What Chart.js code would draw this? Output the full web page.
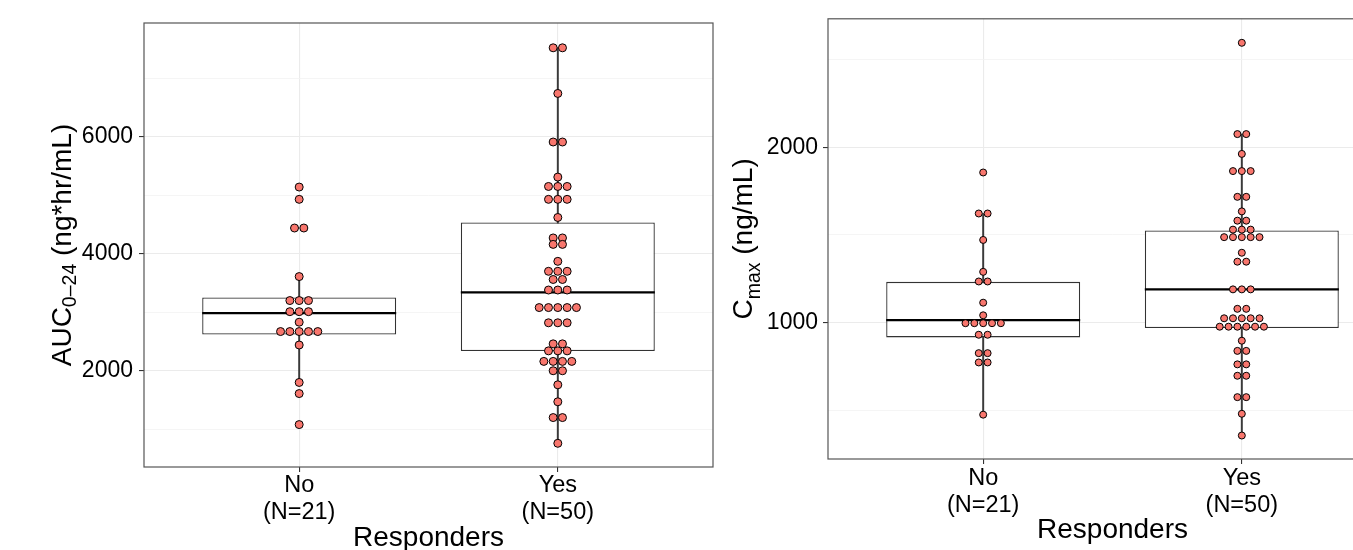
<!DOCTYPE html>
<html>
<head>
<meta charset="utf-8">
<script src="https://cdn.jsdelivr.net/npm/chart.js@4.4.1/dist/chart.umd.min.js"></script>
<style>
  html, body { margin: 0; padding: 0; background: #fff; overflow: hidden; width: 1353px; height: 550px; }
  #auc { position: absolute; left: 0; top: 0; }
  #cmax { position: absolute; left: 700px; top: 0; }
</style>
</head>
<body>
<canvas id="auc" width="730" height="550"></canvas>
<canvas id="cmax" width="714" height="550"></canvas>
<script>
var categories = ["No", "Yes"];
var counts = [21, 50];

// AUC 0-24 (ng*hr/mL), one value per dot
var aucNo = [5140, 4930, 4440, 4440, 3610, 3200, 3200, 3200, 3010, 3010, 3010, 2830,
  2670, 2670, 2670, 2670, 2670, 2440, 1800, 1610, 1080];
var aucYes = [7520, 7520, 6740, 5910, 5910, 5310, 5150, 5150, 5150, 4930, 4930, 4930,
  4620, 4270, 4270, 4160, 4160, 3870, 3700, 3700, 3700, 3560, 3560, 3380, 3380, 3380,
  3080, 3080, 3080, 3080, 3080, 2820, 2820, 2820, 2460, 2460, 2340, 2340, 2340,
  2160, 2160, 2160, 2160, 2000, 2000, 1760, 1470, 1200, 1200, 760];
var aucQ1 = [2621, 2336];
var aucMedian = [2985, 3339];
var aucQ3 = [3253, 4535];
var aucLow = [1802, 760];
var aucHigh = [3612, 7523];
var aucTicks = [2000, 4000, 6000];
var aucMinor = [1000, 3000, 5000, 7000];

// Cmax (ng/mL)
var cmaxNo = [1856, 1622, 1622, 1471, 1289, 1234, 1234, 1113, 1041, 996, 996, 996, 996, 996,
  930, 930, 825, 825, 772, 772, 474];
var cmaxYes = [2596, 2075, 2075, 1962, 1864, 1864, 1864, 1717, 1717, 1634, 1581, 1581,
  1530, 1530, 1530, 1487, 1487, 1487, 1487, 1487, 1398, 1347, 1347, 1189, 1189, 1189,
  1078, 1078, 1024, 1024, 1024, 1024, 1024, 976, 976, 976, 976, 976, 976, 896,
  838, 838, 761, 761, 696, 696, 574, 574, 479, 355];
var cmaxQ1 = [915, 968];
var cmaxMedian = [1013, 1189];
var cmaxQ3 = [1232, 1525];
var cmaxLow = [474, 355];
var cmaxHigh = [1622, 2075];
var cmaxTicks = [1000, 2000];
var cmaxMinor = [500, 1500, 2500];

Chart.defaults.font.family = '"Liberation Sans", Arial, sans-serif';

// stack equal values side by side, centred on the category
function dotRows(values, pos, step) {
  var pts = [], i = 0;
  while (i < values.length) {
    var j = i;
    while (j < values.length && values[j] === values[i]) j++;
    var n = j - i;
    for (var k = 0; k < n; k++) pts.push({ x: pos + (k - (n - 1) / 2) * step, y: values[i] });
    i = j;
  }
  return pts;
}

function pairs(a, b) {
  return [{ x: 1, y: b ? [a[0], b[0]] : a[0] }, { x: 2, y: b ? [a[1], b[1]] : a[1] }];
}

function makeChart(id, o) {
  var major = o.ticks;
  var allTicks = o.ticks.concat(o.minor).sort(function (a, b) { return a - b; });

  var frame = {
    id: "frame",
    afterDraw: function (chart) {
      var a = chart.chartArea, ctx = chart.ctx;
      ctx.save();
      ctx.strokeStyle = "#555";
      ctx.lineWidth = 1.2;
      ctx.strokeRect(a.left, a.top, a.right - a.left, a.bottom - a.top);

      // y title with subscript
      var big = '28px "Liberation Sans", Arial, sans-serif';
      var small = '19.5px "Liberation Sans", Arial, sans-serif';
      ctx.font = big;
      var w1 = ctx.measureText(o.title[0]).width;
      var w3 = ctx.measureText(o.title[2]).width;
      ctx.font = small;
      var w2 = ctx.measureText(o.title[1]).width;
      ctx.translate(o.titleX, (a.top + a.bottom) / 2);
      ctx.rotate(-Math.PI / 2);
      ctx.fillStyle = "#000";
      ctx.textBaseline = "alphabetic";
      ctx.textAlign = "left";
      var sx = -(w1 + w2 + w3) / 2;
      ctx.font = big;
      ctx.fillText(o.title[0], sx, 0);
      ctx.font = small;
      ctx.fillText(o.title[1], sx + w1, o.subShift);
      ctx.font = big;
      ctx.fillText(o.title[2], sx + w1 + w2, 0);
      ctx.restore();
    }
  };

  return new Chart(document.getElementById(id), {
    type: "bar",
    data: {
      datasets: [
        {
          type: "scatter",
          order: 0,
          data: dotRows(o.no, 1, o.step).concat(dotRows(o.yes, 2, o.step)),
          pointRadius: o.dot,
          pointBorderWidth: 1,
          pointBackgroundColor: "#F8766D",
          pointBorderColor: "#000"
        },
        {
          type: "scatter",
          order: 1,
          data: pairs(o.med),
          pointStyle: "line",
          pointRadius: 97,
          pointBorderWidth: 2.2,
          pointBorderColor: "#000"
        },
        {
          order: 2,
          data: pairs(o.q1, o.q3),
          backgroundColor: "#fff",
          borderColor: "#333",
          borderWidth: 1.3,
          borderSkipped: false,
          grouped: false,
          categoryPercentage: 1,
          barPercentage: 0.75
        },
        {
          order: 3,
          data: pairs(o.lo, o.hi),
          backgroundColor: "#3a3a3a",
          borderWidth: 0,
          grouped: false,
          categoryPercentage: 1,
          barPercentage: 1,
          maxBarThickness: 1.3
        }
      ]
    },
    options: {
      responsive: false,
      animation: false,
      events: [],
      layout: { autoPadding: false, padding: { left: 0, top: o.top, right: 17, bottom: 0 } },
      plugins: { legend: { display: false }, tooltip: { enabled: false } },
      scales: {
        x: {
          type: "linear",
          min: 0.4,
          max: 2.6,
          offset: false,
          afterFit: function (s) { s.height = o.xHeight; },
          afterBuildTicks: function (s) { s.ticks = [{ value: 1 }, { value: 2 }]; },
          grid: { offset: false, color: "#EBEBEB", lineWidth: 1.1, tickColor: "#333", tickLength: 5 },
          border: { display: false },
          ticks: {
            autoSkip: false,
            maxRotation: 0,
            padding: o.xPad,
            color: "#000",
            font: { size: 23.5, lineHeight: 1.14 },
            callback: function (v, i) { return [categories[i], "(N=" + counts[i] + ")"]; }
          },
          title: {
            display: true,
            text: "Responders",
            color: "#000",
            font: { size: 28, lineHeight: 1 },
            padding: { top: 0, bottom: o.titlePad }
          }
        },
        y: {
          type: "linear",
          min: o.yMin,
          max: o.yMax,
          afterFit: function (s) { s.width = o.yWidth; },
          afterBuildTicks: function (s) {
            s.ticks = allTicks.map(function (v) { return { value: v }; });
          },
          grid: {
            color: function (c) { return major.indexOf(c.tick.value) >= 0 ? "#EBEBEB" : "#F3F3F3"; },
            lineWidth: function (c) { return major.indexOf(c.tick.value) >= 0 ? 1.1 : 0.8; },
            tickColor: function (c) { return major.indexOf(c.tick.value) >= 0 ? "#333" : "rgba(0,0,0,0)"; },
            tickLength: 5
          },
          border: { display: false },
          ticks: {
            autoSkip: false,
            padding: o.yPad,
            color: "#000",
            font: { size: 23 },
            callback: function (v) { return major.indexOf(v) >= 0 ? String(v) : ""; }
          }
        }
      }
    },
    plugins: [frame]
  });
}

makeChart("auc", {
  no: aucNo, yes: aucYes, q1: aucQ1, med: aucMedian, q3: aucQ3, lo: aucLow, hi: aucHigh,
  ticks: aucTicks, minor: aucMinor, yMin: 355, yMax: 7944,
  top: 23, yWidth: 144, xHeight: 83, xPad: 0, yPad: 6, titlePad: -2,
  step: 0.036, dot: 4,
  title: ["AUC", "0\u201324", " (ng*hr/mL)"], titleX: 71, subShift: 4.5
});

makeChart("cmax", {
  no: cmaxNo, yes: cmaxYes, q1: cmaxQ1, med: cmaxMedian, q3: cmaxQ3, lo: cmaxLow, hi: cmaxHigh,
  ticks: cmaxTicks, minor: cmaxMinor, yMin: 221, yMax: 2733,
  top: 15, yWidth: 128, xHeight: 91, xPad: 1, yPad: 5, titlePad: 6,
  step: 0.0342, dot: 3.5,
  title: ["C", "max", " (ng/mL)"], titleX: 52, subShift: 8
});
</script>
</body>
</html>
